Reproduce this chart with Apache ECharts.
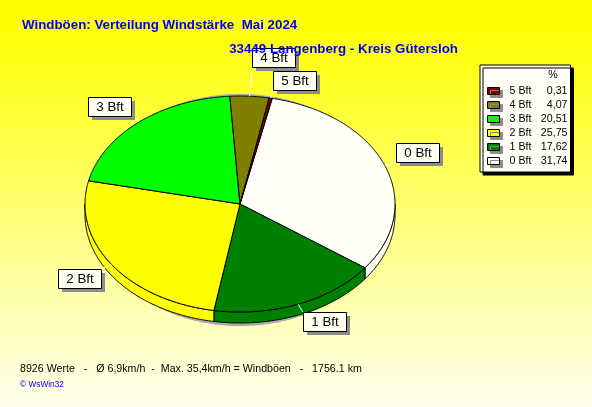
<!DOCTYPE html>
<html><head><meta charset="utf-8">
<script src="https://cdn.jsdelivr.net/npm/echarts@6/dist/echarts.min.js"></script>
<style>html,body{margin:0;padding:0;background:#fff}#c{width:592px;height:407px}</style>
</head><body><div id="c"></div>
<script>
// ---- data ----
const categories = ['0 Bft', '1 Bft', '2 Bft', '3 Bft', '4 Bft', '5 Bft'];
const percentages = [31.74, 17.62, 25.75, 20.51, 4.07, 0.31];
const sliceColors = ['#FFFFF5', '#008000', '#FFFF00', '#00FF00', '#808000', '#800000'];
const legendOrder = ['5 Bft', '4 Bft', '3 Bft', '2 Bft', '1 Bft', '0 Bft'];
const titleText = 'Windböen: Verteilung Windstärke  Mai 2024';
const subtitleText = '33449 Langenberg - Kreis Gütersloh';
const footerText = '8926 Werte   -   Ø 6,9km/h  -  Max. 35,4km/h = Windböen   -   1756.1 km';
const creditText = '© WsWin32';

// ---- layout / style ----
const FONT = '"Liberation Sans", Arial, sans-serif';
const PIE = { cx: 240, cy: 204, a: 155, b: 108, depth: 11, start: 12 };
const LABEL_H = 19;

const total = percentages.reduce((s, v) => s + v, 0);
const spans = percentages.map(v => v / total * 360);
const starts = [];
(function () { let acc = PIE.start; spans.forEach(s => { starts.push(acc); acc += s; }); })();

function pt(theta, f, dy) {
  const r = theta * Math.PI / 180;
  return [PIE.cx + f * PIE.a * Math.sin(r), PIE.cy - f * PIE.b * Math.cos(r) + (dy || 0)];
}
function arc(s, e, f, dy) {
  const pts = [];
  const n = Math.max(2, Math.ceil(Math.abs(e - s) / 0.5));
  for (let k = 0; k <= n; k++) pts.push(pt(s + (e - s) * k / n, f, dy));
  return pts;
}
function frontSegments(s, e) {
  const segs = [];
  const base = s - ((s % 360) + 360) % 360;
  [[90, 270], [450, 630]].forEach(([p, q]) => {
    const lo = Math.max(s, base + p), hi = Math.min(e, base + q);
    if (hi > lo) segs.push([lo, hi]);
  });
  return segs;
}

// label layout with simple collision avoidance
const labelBoxes = [];
(function () {
  const ctx = document.createElement('canvas').getContext('2d');
  ctx.font = '13.33px "Liberation Sans"';
  const placed = [];
  for (let i = categories.length - 1; i >= 0; i--) {
    const mid = starts[i] + spans[i] / 2;
    const r = mid * Math.PI / 180;
    const sx = Math.sin(r), cc = Math.cos(r);
    const w = Math.round(ctx.measureText(categories[i]).width + 16), h = LABEL_H;
    let f = 1.08, box;
    for (let k = 0; k < 80; k++) {
      const [ax, ay] = pt(mid, f);
      const x = sx >= 0 ? ax : ax - w;
      const y = cc >= 0 ? ay - h : ay;
      box = { x, y, w, h, ax, ay, mid };
      if (!placed.some(p => x < p.x + p.w && x + w > p.x && y < p.y + p.h + 3 && y + h + 3 > p.y)) break;
      f += 0.01;
    }
    placed.push(box);
    labelBoxes[i] = box;
  }
})();

function renderSlice(params, api) {
  const i = params.seriesIndex;
  const s = starts[i];
  const e = s + api.value(0) / total * 360;
  const color = sliceColors[i];
  const children = [];
  if (i === 0) {
    children.push({ type: 'polygon', z2: 0, shape: { points: arc(0, 360, 1, 0).map(p => [PIE.cx + (p[0] - PIE.cx) * 0.97, PIE.cy + 6 + (p[1] - PIE.cy) * 1.075]) },
      style: { fill: '#ababab' } });
  }
  frontSegments(s, e).forEach(([p, q]) => {
    const pts = arc(p, q, 1, 0).concat(arc(q, p, 1, PIE.depth));
    children.push({ type: 'polygon', z2: 1, shape: { points: pts }, style: { fill: color, stroke: '#000', lineWidth: 1 } });
  });
  const top = [[PIE.cx, PIE.cy]].concat(arc(s, e, 1, 0));
  children.push({ type: 'polygon', z2: 2, shape: { points: top }, style: { fill: color, stroke: '#000', lineWidth: 1 } });

  const bx = labelBoxes[i];
  const edge = pt(bx.mid, 1);
  children.push({ type: 'line', z2: 3, shape: { x1: edge[0], y1: edge[1], x2: bx.ax, y2: bx.ay }, style: { stroke: '#ffffff', lineWidth: 1 } });
  children.push({ type: 'rect', z2: 4, shape: { x: Math.round(bx.x) + 4, y: Math.round(bx.y) + 4, width: bx.w, height: bx.h }, style: { fill: '#8c8c8c' } });
  children.push({ type: 'rect', z2: 5, shape: { x: Math.round(bx.x) + 0.5, y: Math.round(bx.y) + 0.5, width: bx.w, height: bx.h }, style: { fill: '#FFFFF0', stroke: '#000', lineWidth: 1 } });
  children.push({ type: 'text', z2: 6, style: { text: categories[i], x: Math.round(bx.x) + bx.w / 2 + 0.5, y: Math.round(bx.y) + bx.h / 2 + 1, align: 'center', verticalAlign: 'middle',
    fontSize: 13.33, fontFamily: FONT, fill: '#000' } });
  return { type: 'group', children };
}

const chart = echarts.init(document.getElementById('c'), null, { renderer: 'canvas' });
chart.setOption({
  animation: false,
  backgroundColor: { type: 'linear', x: 0, y: 0, x2: 0, y2: 1,
    colorStops: [{ offset: 0, color: '#FFFF00' }, { offset: 0.06, color: '#FFFF00' }, { offset: 1, color: '#FFFFEE' }] },
  title: [
    { text: titleText, left: 22, top: 17, padding: 0,
      textStyle: { color: '#0000FF', fontWeight: 'bold', fontSize: 13.33, fontFamily: FONT, lineHeight: 16 } },
    { text: subtitleText, right: 134, top: 41, padding: 0,
      textStyle: { color: '#0000FF', fontWeight: 'bold', fontSize: 13.33, fontFamily: FONT, lineHeight: 16 } }
  ],
  legend: {
    orient: 'vertical', left: 480, top: 65,
    padding: [19, 3, 4, 7],
    itemWidth: 12, itemHeight: 7, itemGap: 0,
    icon: 'rect',
    selectedMode: false,
    backgroundColor: '#FFFFF5', borderColor: '#000', borderWidth: 1,
    shadowColor: '#000', shadowOffsetX: 3, shadowOffsetY: 3, shadowBlur: 0,
    data: legendOrder,
    itemStyle: { borderColor: '#000', borderWidth: 1, shadowColor: '#8c8c8c', shadowOffsetX: 3, shadowOffsetY: 3, shadowBlur: 0 },
    formatter: name => {
      const v = percentages[categories.indexOf(name)].toFixed(2).replace('.', ',');
      return '{n|' + name + '}{v|' + v + '}';
    },
    textStyle: {
      color: '#000', fontSize: 10.67, fontFamily: FONT, lineHeight: 14,
      rich: {
        n: { fontSize: 10.67, fontFamily: FONT, color: '#000', width: 30, padding: [0, 0, 0, 5], lineHeight: 14 },
        v: { fontSize: 10.67, fontFamily: FONT, color: '#000', width: 28, align: 'right', lineHeight: 14 }
      }
    }
  },
  graphic: [
    { type: 'text', z: 100, x: 553, y: 75, style: { text: '%', fontSize: 10.67, fontFamily: FONT, fill: '#000', align: 'center', verticalAlign: 'middle' } },
    { type: 'text', z: 100, x: 20, y: 369, style: { text: footerText, fontSize: 10.67, fontFamily: FONT, fill: '#000', verticalAlign: 'middle' } },
    { type: 'text', z: 100, x: 20, y: 385, style: { text: creditText, fontSize: 8.3, fontFamily: FONT, fill: '#0000FF', verticalAlign: 'middle' } }
  ],
  series: categories.map((name, i) => ({
    type: 'custom',
    name: name,
    coordinateSystem: 'none',
    itemStyle: { color: sliceColors[i] },
    data: [percentages[i]],
    renderItem: renderSlice
  }))
});
</script>
</body></html>
